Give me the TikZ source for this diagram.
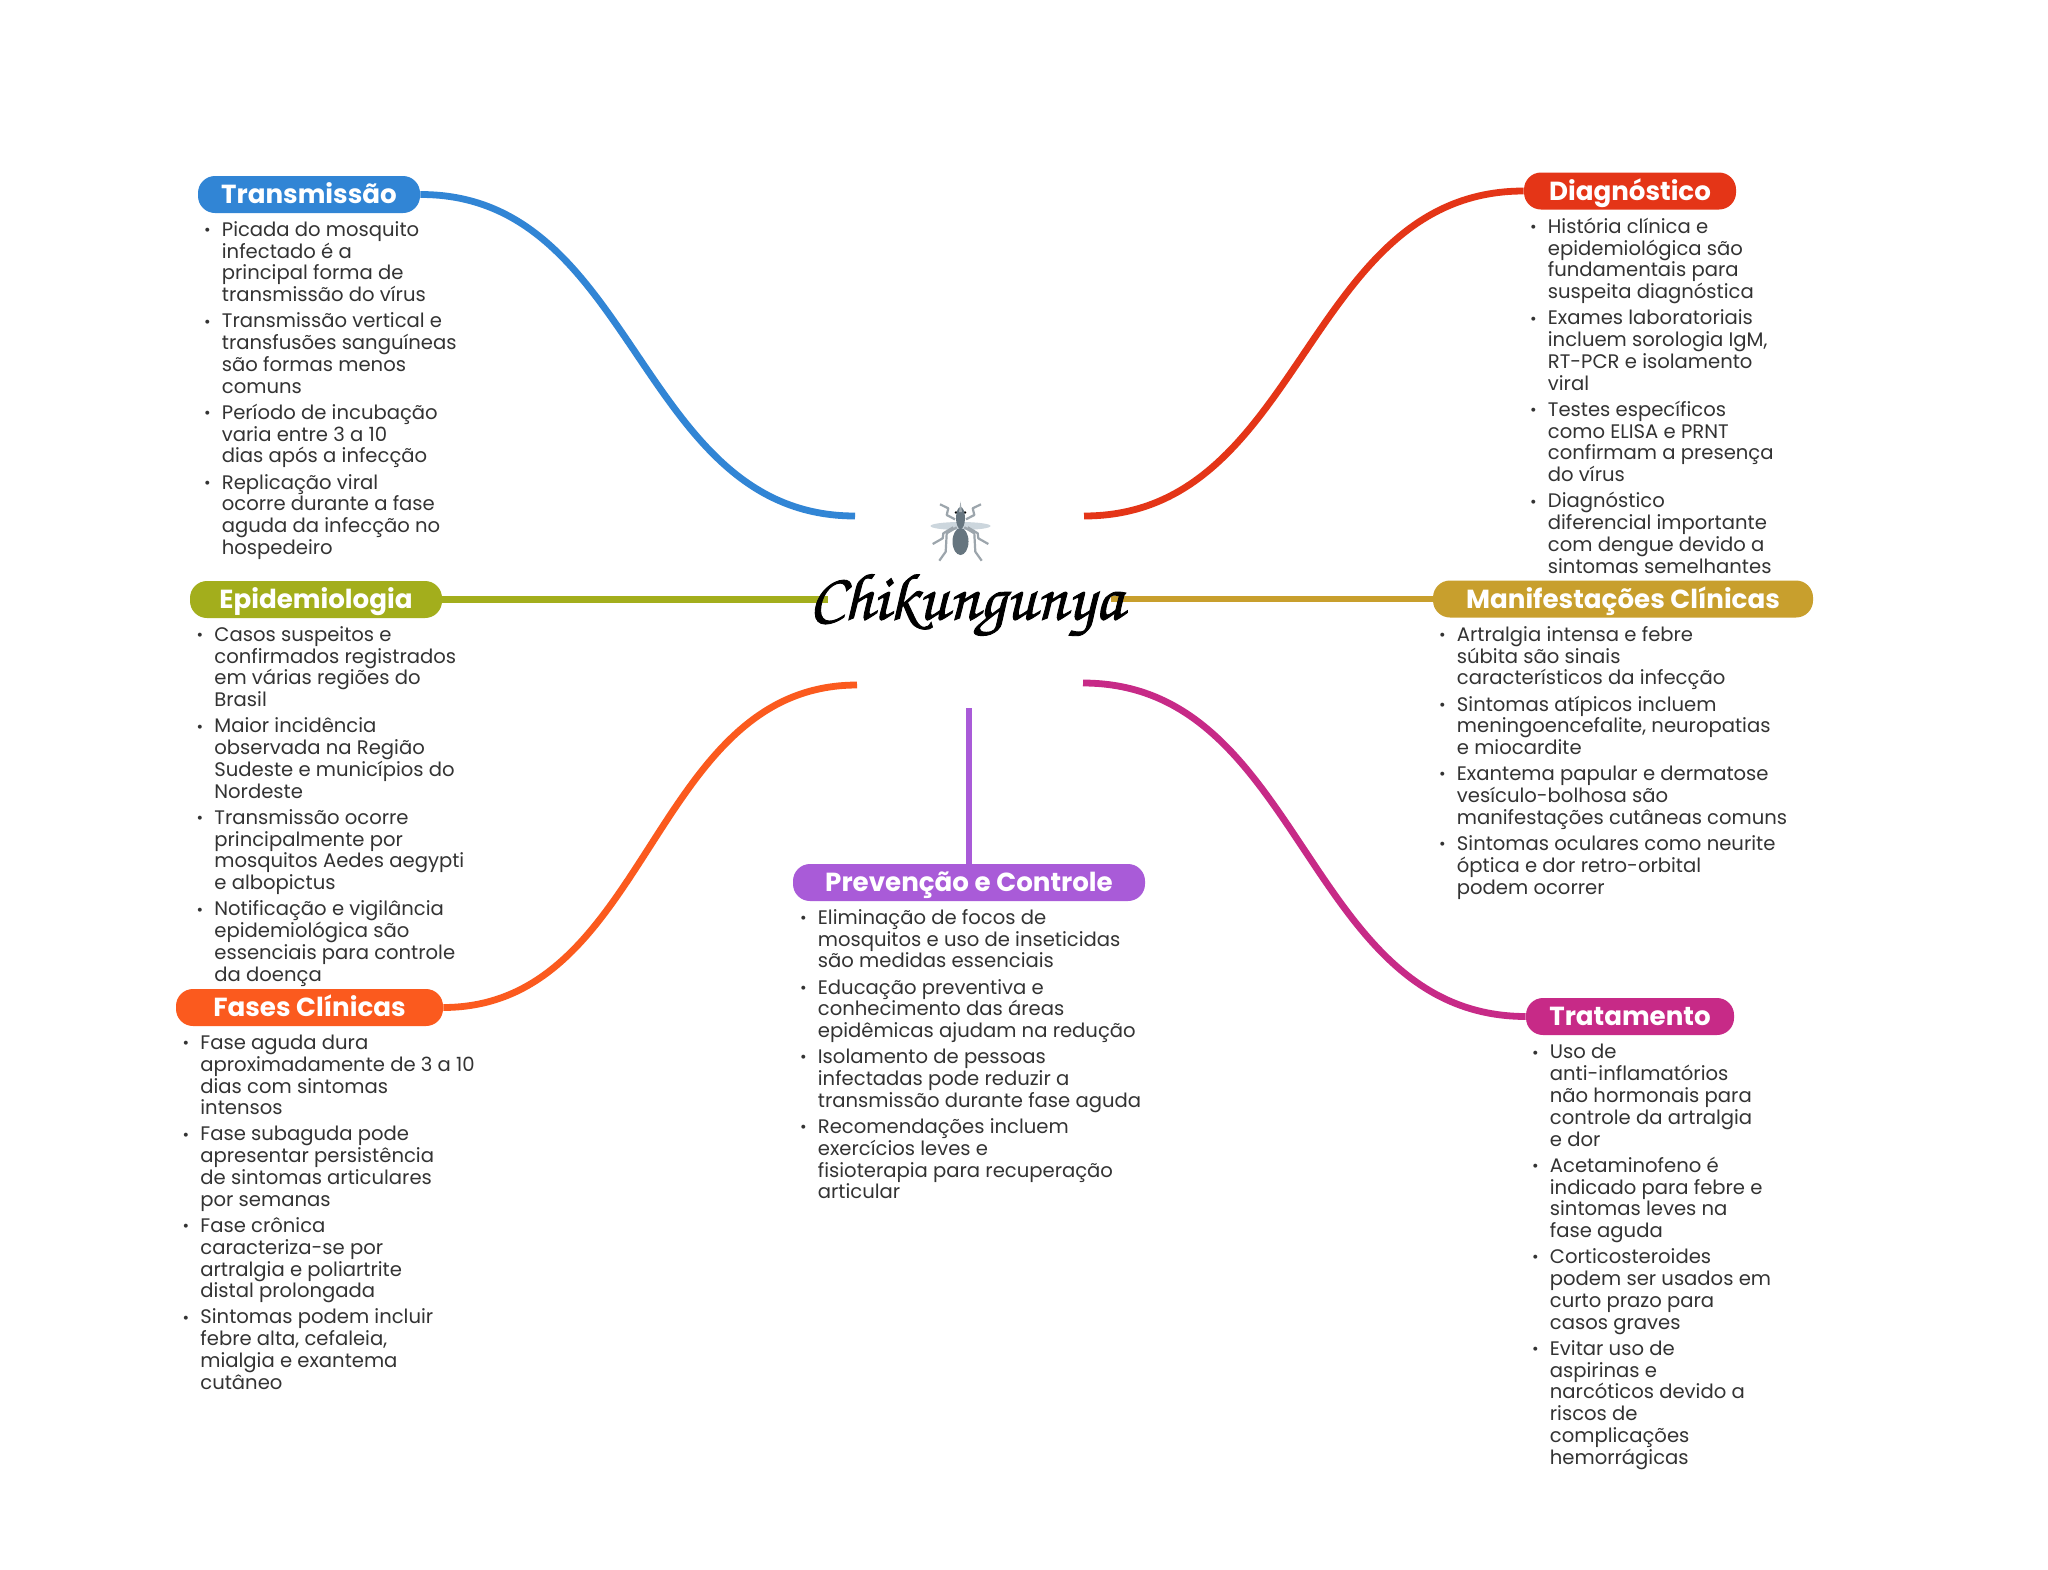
\documentclass[tikz,border=0pt]{standalone}
\usepackage{fontspec}
\setmainfont{Poppins}
\usepackage{tikz}

\definecolor{bluetopic}{HTML}{3185D5}
\definecolor{redtopic}{HTML}{E43517}
\definecolor{greentopic}{HTML}{A3AE1C}
\definecolor{goldtopic}{HTML}{C89F2D}
\definecolor{orangetopic}{HTML}{FB5A1E}
\definecolor{magentatopic}{HTML}{C72A87}
\definecolor{purpletopic}{HTML}{A95BD8}
\definecolor{itemgray}{HTML}{333333}
\definecolor{mosquitogray}{HTML}{66757F}
\definecolor{winggray}{HTML}{CCD6DD}

\newcommand{\itm}{\llap{\raisebox{0.4pt}{\fontsize{8}{8}\selectfont •}\hspace{5.6pt}}}
\newcommand{\gap}{\\[2.15pt]}

\tikzset{
    topic/.style={rounded corners=8.5pt, minimum height=18.5pt, inner sep=0pt, text=white,
        text height=10.5pt, text depth=1.2pt, font=\fontsize{13.07}{15}\selectfont\bfseries},
    items/.style={anchor=north west, align=left, inner sep=0pt, text=itemgray,
        font=\fontsize{9.8}{10.9}\selectfont},
    branch/.style={line width=3.4pt},
    leg/.style={mosquitogray!65, line width=1.1pt, line join=round}
}

\begin{document}
\begin{tikzpicture}[x=0.5pt, y=-0.5pt]
    \fill[white] (0,0) rectangle (2048,1569);
    \useasboundingbox (0,0) rectangle (2048,1569);

    \node (transmissao) [topic, fill=bluetopic, minimum width=111pt] at (309,194.5) {Transmissão};
    \node (diagnostico) [topic, fill=redtopic, minimum width=106pt] at (1630,191) {Diagnóstico};
    \node (epidemiologia) [topic, fill=greentopic, minimum width=126pt] at (316,599.5) {Epidemiologia};
    \node (manifestacoes) [topic, fill=goldtopic, minimum width=190pt] at (1623,599) {Manifestações Clínicas};
    \node (fases) [topic, fill=orangetopic, minimum width=133.5pt] at (309.5,1007.5) {Fases Clínicas};
    \node (prevencao) [topic, fill=purpletopic, minimum width=176pt] at (969,882.5) {Prevenção e Controle};
    \node (tratamento) [topic, fill=magentatopic, minimum width=104pt] at (1630,1016.5) {Tratamento};

    \coordinate (hubtransmissao) at (855,516);
    \coordinate (hubdiagnostico) at (1084,516);
    \coordinate (hubepidemiologia) at (828,599.5);
    \coordinate (hubmanifestacoes) at (1111,599);
    \coordinate (hubfases) at (857,685);
    \coordinate (hubtratamento) at (1083,683);
    \coordinate (hubprevencao) at (969,708);

    \draw[branch, bluetopic] (hubtransmissao) .. controls (637,516) and (637,194) .. (transmissao.east);
    \draw[branch, redtopic] (hubdiagnostico) .. controls (1304,516) and (1304,191) .. (diagnostico.west);
    \draw[branch, greentopic] (hubepidemiologia) -- (epidemiologia.east);
    \draw[branch, goldtopic] (hubmanifestacoes) -- (manifestacoes.west);
    \draw[branch, orangetopic] (hubfases) .. controls (650,685) and (650,1007) .. (fases.east);
    \draw[branch, magentatopic] (hubtratamento) .. controls (1304,683) and (1304,1016) .. (tratamento.west);
    \draw[branch, purpletopic] (hubprevencao) -- (prevencao.north);

    % mosquito
    \fill[winggray] (960.5,526) ellipse [x radius=30, y radius=4];
    \foreach \side in {1,-1} {
        \begin{scope}[shift={(960.5,0)}, xscale=\side]
            \draw[leg] (20.5,504.3) -- (12.2,508.3) -- (13.8,515) -- (5.5,519.3);
            \draw[leg] (7.2,527.3) -- (17.2,533.3) -- (17.8,538.3) -- (27.8,544);
            \draw[leg] (3.8,527.3) -- (13.8,533.3) -- (14.8,551.7) -- (21.2,560.7);
            \fill[black] (4.5,512.5) circle [radius=1.3];
        \end{scope}
    }
    \fill[mosquitogray] (960.5,541.5) ellipse [x radius=8, y radius=13.5];
    \fill[mosquitogray] (960.5,518) ellipse [x radius=4.5, y radius=11];
    \fill[mosquitogray!60] (960.5,501.5) -- (962,512) -- (959,512) -- cycle;

    \node (chikungunya) [inner sep=0pt, text=black, font=\fontencoding{OT1}\fontfamily{pzc}\fontseries{m}\fontshape{it}\fontsize{33.2}{36}\selectfont] at (966,606) {\special{pdf:code 2 Tr 0.45 w}Chikungunya\special{pdf:code 0 Tr}};

    \node (transmissaoitems) [items] at (221.5,221) {\itm Picada do mosquito\\infectado é a\\principal forma de\\transmissão do vírus\gap
        \itm Transmissão vertical e\\transfusões sanguíneas\\são formas menos\\comuns\gap
        \itm Período de incubação\\varia entre 3 a 10\\dias após a infecção\gap
        \itm Replicação viral\\ocorre durante a fase\\aguda da infecção no\\hospedeiro};
    \node (diagnosticoitems) [items] at (1547.5,217.5) {\itm História clínica e\\epidemiológica são\\fundamentais para\\suspeita diagnóstica\gap
        \itm Exames laboratoriais\\incluem sorologia IgM,\\RT-PCR e isolamento\\viral\gap
        \itm Testes específicos\\como ELISA e PRNT\\confirmam a presença\\do vírus\gap
        \itm Diagnóstico\\diferencial importante\\com dengue devido a\\sintomas semelhantes};
    \node (epidemiologiaitems) [items] at (214,626) {\itm Casos suspeitos e\\confirmados registrados\\em várias regiões do\\Brasil\gap
        \itm Maior incidência\\observada na Região\\Sudeste e municípios do\\Nordeste\gap
        \itm Transmissão ocorre\\principalmente por\\mosquitos Aedes aegypti\\e albopictus\gap
        \itm Notificação e vigilância\\epidemiológica são\\essenciais para controle\\da doença};
    \node (manifestacoesitems) [items] at (1456.5,626) {\itm Artralgia intensa e febre\\súbita são sinais\\característicos da infecção\gap
        \itm Sintomas atípicos incluem\\meningoencefalite, neuropatias\\e miocardite\gap
        \itm Exantema papular e dermatose\\vesículo-bolhosa são\\manifestações cutâneas comuns\gap
        \itm Sintomas oculares como neurite\\óptica e dor retro-orbital\\podem ocorrer};
    \node (fasesitems) [items] at (200,1034.5) {\itm Fase aguda dura\\aproximadamente de 3 a 10\\dias com sintomas\\intensos\gap
        \itm Fase subaguda pode\\apresentar persistência\\de sintomas articulares\\por semanas\gap
        \itm Fase crônica\\caracteriza-se por\\artralgia e poliartrite\\distal prolongada\gap
        \itm Sintomas podem incluir\\febre alta, cefaleia,\\mialgia e exantema\\cutâneo};
    \node (prevencaoitems) [items] at (817.5,909) {\itm Eliminação de focos de\\mosquitos e uso de inseticidas\\são medidas essenciais\gap
        \itm Educação preventiva e\\conhecimento das áreas\\epidêmicas ajudam na redução\gap
        \itm Isolamento de pessoas\\infectadas pode reduzir a\\transmissão durante fase aguda\gap
        \itm Recomendações incluem\\exercícios leves e\\fisioterapia para recuperação\\articular};
    \node (tratamentoitems) [items] at (1549.5,1044) {\itm Uso de\\anti-inflamatórios\\não hormonais para\\controle da artralgia\\e dor\gap
        \itm Acetaminofeno é\\indicado para febre e\\sintomas leves na\\fase aguda\gap
        \itm Corticosteroides\\podem ser usados em\\curto prazo para\\casos graves\gap
        \itm Evitar uso de\\aspirinas e\\narcóticos devido a\\riscos de\\complicações\\hemorrágicas};
\end{tikzpicture}
\end{document}
